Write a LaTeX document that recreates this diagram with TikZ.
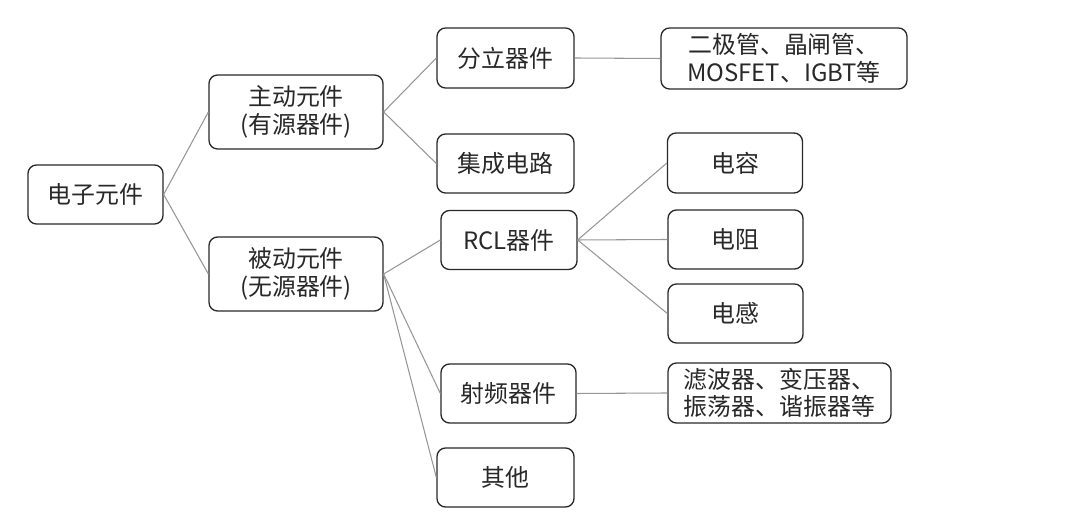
\documentclass[tikz,border=0pt]{standalone}
\usepackage{fontspec}
\setmainfont{Noto Sans CJK SC}
\usetikzlibrary{positioning}
\definecolor{K}{RGB}{40, 40, 40}
\definecolor{L}{RGB}{150, 150, 150}
\tikzset{
  box/.style={draw=K, line width=0.75pt, rounded corners=0.17cm, align=center,
    inner sep=0pt, font=\fontsize{13.6}{15.6}\selectfont, text=K},
  link/.style={draw=L, line width=0.6pt}
}
\begin{document}
\begin{tikzpicture}[x=0.02cm, y=-0.02cm]
  \useasboundingbox (0,0) rectangle (1080,519);
  \node[box, minimum width=2.7cm, minimum height=1.18cm] (root) at (95.5,194.5) {电子元件};
  \node[box, minimum width=3.48cm, minimum height=1.48cm] (active) at (296,112) {主动元件\\(有源器件)};
  \node[box, minimum width=3.48cm, minimum height=1.48cm] (passive) at (296,274) {被动元件\\(无源器件)};
  \node[box, minimum width=2.74cm, minimum height=1.2cm] (discrete) at (505.5,58) {分立器件};
  \node[box, minimum width=2.74cm, minimum height=1.18cm] (ic) at (505.5,163.5) {集成电路};
  \node[box, minimum width=2.72cm, minimum height=1.18cm] (rcl) at (509,240) {RCL器件};
  \node[box, minimum width=2.7cm, minimum height=1.18cm] (rf) at (508.5,393.5) {射频器件};
  \node[box, minimum width=2.74cm, minimum height=1.18cm] (other) at (505.5,477.5) {其他};
  \node[box, minimum width=4.92cm, minimum height=1.22cm] (diode) at (784,58.5) {二极管、晶闸管、\\MOSFET、IGBT等};
  \node[box, minimum width=2.7cm, minimum height=1.2cm] (cap) at (735,163) {电容};
  \node[box, minimum width=2.7cm, minimum height=1.18cm] (res) at (735.5,239.5) {电阻};
  \node[box, minimum width=2.7cm, minimum height=1.18cm] (ind) at (735.5,313.5) {电感};
  \node[box, minimum width=4.46cm, minimum height=1.2cm] (filter) at (779.5,393) {滤波器、变压器、\\振荡器、谐振器等};

  \draw[link] (root.east) -- (active.west);
  \draw[link] (root.east) -- (passive.west);
  \draw[link] (active.east) -- (discrete.west);
  \draw[link] (active.east) -- (ic.west);
  \draw[link] (passive.east) -- (rcl.west);
  \draw[link] (passive.east) -- (rf.west);
  \draw[link] (passive.east) -- (other.west);
  \draw[link] (discrete.east) -- (diode.west);
  \draw[link] (rcl.east) -- (cap.west);
  \draw[link] (rcl.east) -- (res.west);
  \draw[link] (rcl.east) -- (ind.west);
  \draw[link] (rf.east) -- (filter.west);
\end{tikzpicture}
\end{document}
